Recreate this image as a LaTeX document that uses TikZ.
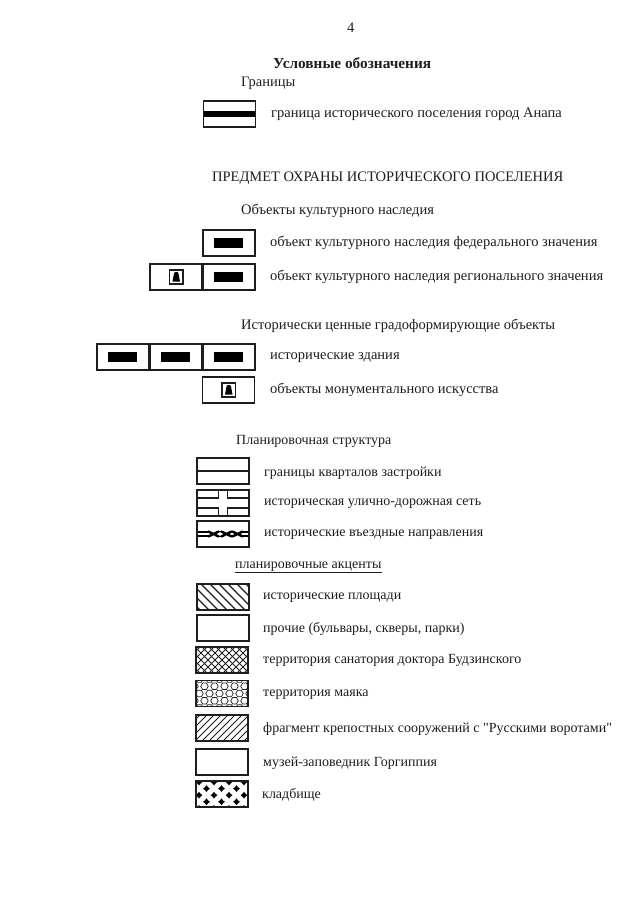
\documentclass[tikz,border=0pt]{standalone}
\usepackage{fontspec}
\setmainfont{Liberation Serif}[Ligatures=TeXOff]
\usetikzlibrary{shapes.geometric}
\definecolor{inkgray}{RGB}{30,30,30}
\tikzset{
  legbox/.style={draw=inkgray,line width=1.05pt,minimum width=52pt,minimum height=26pt,inner sep=0pt,outer sep=0pt},
  legtext/.style={anchor=west,inner sep=0pt,yshift=-2.5pt,text=inkgray,font=\fontsize{14}{16}\selectfont},
  uptext/.style={legtext,font=\fontsize{14.5}{16}\selectfont},
  barbox/.style={legbox,path picture={\fill[black] ([shift={(-15.5,-5)}]path picture bounding box.center) rectangle ++(29,10);}},
  bellbox/.style={legbox,path picture={
    \draw[inkgray,line width=1.1pt,fill=white] ([shift={(-6.5,-7)}]path picture bounding box.center) rectangle ++(13.5,14);
    \fill[black] ([shift={(-3.5,4.5)}]path picture bounding box.center) -- ++(7.5,0) -- ++(-1.5,-8) -- ++(-1,-1.5) -- ++(-2.5,0) -- ++(-1,1.5) -- cycle;}},
  linebox/.style={legbox,path picture={\draw[inkgray,line width=2pt] (path picture bounding box.west) -- (path picture bounding box.east);}},
  borderbox/.style={legbox,path picture={\draw[black,line width=5.2pt] (path picture bounding box.west) -- (path picture bounding box.east);}},
  roadbox/.style={legbox,path picture={
    \draw[inkgray,line width=1.1pt] ([shift={(-4.8,-14)}]path picture bounding box.center) |- ([shift={(-27,-5)}]path picture bounding box.center);
    \draw[inkgray,line width=1.1pt] ([shift={(-4.8,14)}]path picture bounding box.center) |- ([shift={(-27,5)}]path picture bounding box.center);
    \draw[inkgray,line width=1.1pt] ([shift={(4.8,-14)}]path picture bounding box.center) |- ([shift={(27,-5)}]path picture bounding box.center);
    \draw[inkgray,line width=1.1pt] ([shift={(4.8,14)}]path picture bounding box.center) |- ([shift={(27,5)}]path picture bounding box.center);}},
  chainbox/.style={legbox,path picture={
    \begin{scope}[shift={(path picture bounding box.center)}]
      \draw[black,line width=1.9pt] (-27,-1.6) -- (-15,-1.6) (-27,1.6) -- (-15,1.6) (17,-1.6) -- (27,-1.6) (17,1.6) -- (27,1.6);
      \foreach \cx in {-9,4,15} {
        \draw[black,line width=2.4pt] (\cx-6,-2.6) -- (\cx+5,2.6) (\cx-6,2.6) -- (\cx+5,-2.6);
        \draw[black,line width=1.8pt] (\cx+2,-2.5) -- (\cx+8,-2.5) (\cx+2,2.5) -- (\cx+8,2.5);
      }
    \end{scope}}},
  leftbox/.style={legbox,path picture={
    \foreach \d in {-63,-54,...,63} {
      \draw[inkgray,line width=1.25pt] ([shift={(\d-20,-20)}]path picture bounding box.center) -- ++(40,40);}}},
  rightbox/.style={legbox,path picture={
    \foreach \d in {-63,-56,...,63} {
      \draw[inkgray,line width=1pt] ([shift={(\d-20,20)}]path picture bounding box.center) -- ++(40,-40);}}},
  crossbox/.style={legbox,path picture={
    \foreach \d in {-63,-56,...,63} {
      \draw[inkgray,line width=0.85pt] ([shift={(\d-20,20)}]path picture bounding box.center) -- ++(40,-40);
      \draw[inkgray,line width=0.85pt] ([shift={(\d-20,-20)}]path picture bounding box.center) -- ++(40,40);}}},
  hexbox/.style={legbox,path picture={
    \begin{scope}[shift={(path picture bounding box.center)}]
      \foreach \row in {-2,...,2} {
        \pgfmathsetmacro{\rowshift}{mod(\row+2,2)*5}
        \foreach \col in {-3,...,3} {
          \node[regular polygon,regular polygon sides=6,draw=inkgray,line width=0.7pt,minimum size=7.5pt,inner sep=0pt] at (\col*10+\rowshift-2.5,\row*7.2) {};
        }
      }
    \end{scope}}},
  dotbox/.style={legbox,path picture={
    \begin{scope}[shift={(path picture bounding box.center)}]
      \foreach \row in {-2,...,2} {
        \pgfmathsetmacro{\rowshift}{mod(\row+2,2)*7.5}
        \foreach \col in {-3,...,3} {
          \fill[black] (\col*15+\rowshift-8,\row*6.6+1.2) +(-3.4,0) -- +(-1.5,-1.5) -- +(0,-3.4) -- +(1.5,-1.5) -- +(3.4,0) -- +(1.5,1.5) -- +(0,3.4) -- +(-1.5,1.5) -- cycle;
        }
      }
    \end{scope}}}
}
\begin{document}
\begin{tikzpicture}[x=1pt,y=-1pt]
  \useasboundingbox[fill=white] (0,0) rectangle (639,905);
  \node[uptext] (pagenum) at (347,25.5) {4};
  \node[legtext,font=\fontsize{15.3}{17}\selectfont\bfseries] (title) at (273,61) {Условные обозначения};
  \node[uptext] (granicy) at (241,81) {Границы};
  \node[borderbox] (granbox) at (229.5,114) {};
  \node[uptext] (grantext) at (271,112) {граница исторического поселения город Анапа};
  \node[uptext] (predmet) at (212,176) {ПРЕДМЕТ ОХРАНЫ ИСТОРИЧЕСКОГО ПОСЕЛЕНИЯ};
  % objects
  \node[uptext] (okn) at (241,208.5) {Объекты культурного наследия};
  \node[barbox] (fedbox) at (229,243) {};
  \node[uptext] (fedtext) at (270,240.5) {объект культурного наследия федерального значения};
  \node[barbox] (regbox) at (229,277) {};
  \node[bellbox] (regbell) at (176,277) {};
  \node[uptext] (regtext) at (270,274.5) {объект культурного наследия регионального значения};
  \node[uptext] (cennye) at (241,323) {Исторически ценные градоформирующие объекты};
  \node[barbox] (zdbox) at (229,357) {};
  \node[barbox] (zdboxb) at (176,357) {};
  \node[barbox] (zdboxc) at (123,357) {};
  \node[uptext] (zdtext) at (270,355.5) {исторические здания};
  \node[bellbox] (monbox) at (228.5,390) {};
  \node[uptext] (montext) at (270,387.5) {объекты монументального искусства};
  % structure
  \node[legtext] (plan) at (236,439) {Планировочная структура};
  \node[linebox] (kvbox) at (223,471) {};
  \node[legtext] (kvtext) at (264,470.5) {границы кварталов застройки};
  \node[roadbox] (roadnet) at (223,503) {};
  \node[legtext] (roadtext) at (264,501.5) {историческая улично-дорожная сеть};
  \node[chainbox] (vezd) at (223,534) {};
  \node[legtext] (vezdtext) at (264,532.5) {исторические въездные направления};
  \node[legtext] (akcent) at (235,564) {планировочные акценты};
  \draw[inkgray,line width=0.8pt] (akcent.south west) ++(0,0.5) -- ++(147,0);
  % accents
  \node[leftbox] (ploshbox) at (223,597) {};
  \node[legtext] (ploshtext) at (263,595) {исторические площади};
  \node[legbox] (prochbox) at (223,628) {};
  \node[legtext] (prochtext) at (263,626.5) {прочие (бульвары, скверы, парки)};
  \node[crossbox] (sanbox) at (222,660) {};
  \node[legtext] (santext) at (263,657.5) {территория санатория доктора Будзинского};
  \node[hexbox] (mayakbox) at (222,693.5) {};
  \node[legtext] (mayaktext) at (263,692.5) {территория маяка};
  \node[rightbox] (fragbox) at (222,728) {};
  \node[legtext] (fragtext) at (263,726.5) {фрагмент крепостных сооружений с "Русскими воротами"};
  \node[legbox] (muzbox) at (222,762) {};
  \node[legtext] (muztext) at (263,760.5) {музей-заповедник Горгиппия};
  \node[dotbox] (kladbox) at (222,794) {};
  \node[legtext] (kladtext) at (262,792.5) {кладбище};
\end{tikzpicture}
\end{document}
